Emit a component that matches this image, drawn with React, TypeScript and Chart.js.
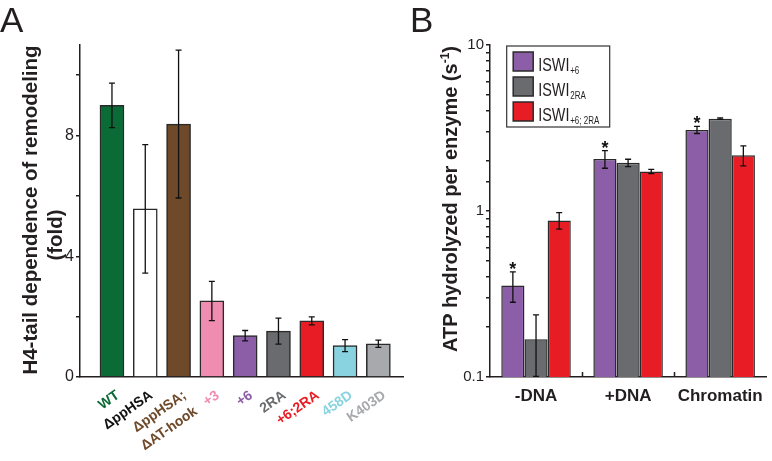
import React, { useEffect, useRef } from 'react';
import { Chart, registerables } from 'chart.js';

Chart.register(...registerables);

const FONT = '"Liberation Sans", Arial, Helvetica, sans-serif';
const INK = '#231f20';
const EDGE = '#2a2a2a';

// ---------- Panel A data ----------
const categoriesA: (string | string[])[] = ['WT', 'ΔppHSA', ['ΔppHSA;', 'ΔAT-hook'], '+3', '+6', '2RA', '+6;2RA', '458D', 'K403D'];
const valuesA = [9.0, 5.57, 8.38, 2.52, 1.37, 1.52, 1.86, 1.04, 1.1];
const errorsA = [0.74, 2.13, 2.45, 0.65, 0.17, 0.43, 0.13, 0.2, 0.12];
const barColorsA = ['#0b6b37', '#ffffff', '#6e4a2a', '#f08cb0', '#8c5ea8', '#6a6b6e', '#e81c24', '#88d3df', '#a7a9ac'];
const labelColorsA = ['#0b6b37', '#111111', '#6e4a2a', '#f08cb0', '#8c5ea8', '#6a6b6e', '#e81c24', '#88d3df', '#a7a9ac'];
const yTicksA = [0, 2, 4, 6, 8, 10];
const yTickLabelsA = ['0', '', '4', '', '8', ''];
const yTitleA = ['H4-tail dependence of remodeling', '(fold)'];

// ---------- Panel B data ----------
const categoriesB = ['-DNA', '+DNA', 'Chromatin'];
const seriesNameB = 'ISWI';
const seriesSubB = ['+6', '2RA', '+6; 2RA'];
const valuesP6 = [0.356, 2.06, 3.08];
const errorsP6 = [0.074, 0.25, 0.15];
const valuesRA = [0.169, 1.95, 3.6];
const errorsRA = [0.068, 0.1, 0.04];
const valuesP6RA = [0.878, 1.73, 2.17];
const errorsP6RA = [0.1, 0.05, 0.3];
const starsP6 = [true, true, true];
const colorsB = ['#8c5ea8', '#6a6b6e', '#e81c24'];
const yTickLabelsB = [0.1, 1, 10];
const yTitleB = 'ATP hydrolyzed per enzyme (s';
const yTitleSupB = '-1';

const errorBarPlugin = {
  id: 'errorBars',
  afterDatasetsDraw(chart: any) {
    const ctx = chart.ctx;
    const ys = chart.scales.y;
    const area = chart.chartArea;
    chart.data.datasets.forEach((ds: any, di: number) => {
      if (!ds.errors) return;
      const meta = chart.getDatasetMeta(di);
      meta.data.forEach((el: any, j: number) => {
        const raw = ds.data[j];
        const v = typeof raw === 'number' ? raw : raw.y;
        const e = ds.errors[j];
        const yTop = ys.getPixelForValue(v + e);
        const low = Math.max(v - e, ys.min);
        const yBot = Math.min(ys.getPixelForValue(low), area.bottom);
        const x = el.x;
        ctx.save();
        ctx.strokeStyle = '#111';
        ctx.lineWidth = 1.3;
        ctx.beginPath();
        ctx.moveTo(x, yTop);
        ctx.lineTo(x, yBot);
        ctx.moveTo(x - 3, yTop);
        ctx.lineTo(x + 3, yTop);
        ctx.moveTo(x - 3, yBot);
        ctx.lineTo(x + 3, yBot);
        ctx.stroke();
        if (ds.stars && ds.stars[j]) {
          ctx.fillStyle = '#111';
          ctx.font = `bold 18px ${FONT}`;
          ctx.textAlign = 'center';
          ctx.textBaseline = 'alphabetic';
          ctx.fillText('*', x, yTop + 3);
        }
        ctx.restore();
      });
    });
  },
};

const titlePluginA = {
  id: 'titleA',
  afterDraw(chart: any) {
    const ctx = chart.ctx;
    ctx.save();
    ctx.fillStyle = INK;
    ctx.font = `bold 20.5px ${FONT}`;
    ctx.textAlign = 'center';
    ctx.textBaseline = 'alphabetic';
    ctx.translate(36.7, 210);
    ctx.rotate(-Math.PI / 2);
    ctx.fillText(yTitleA[0], 0, 0);
    ctx.restore();
    ctx.save();
    ctx.fillStyle = INK;
    ctx.font = `bold 20.5px ${FONT}`;
    ctx.textAlign = 'center';
    ctx.textBaseline = 'alphabetic';
    ctx.translate(62, 235);
    ctx.rotate(-Math.PI / 2);
    ctx.fillText(yTitleA[1], 0, 0);
    ctx.restore();
  },
};

const titlePluginB = {
  id: 'titleB',
  afterDraw(chart: any) {
    const ctx = chart.ctx;
    ctx.save();
    ctx.fillStyle = INK;
    const mainFont = `bold 20px ${FONT}`;
    const supFont = `bold 12px ${FONT}`;
    ctx.font = mainFont;
    const w1 = ctx.measureText(yTitleB).width;
    const w3 = ctx.measureText(')').width;
    ctx.font = supFont;
    const w2 = ctx.measureText(yTitleSupB).width;
    const total = w1 + w2 + w3;
    ctx.translate(56.7, 199);
    ctx.rotate(-Math.PI / 2);
    ctx.textAlign = 'left';
    ctx.textBaseline = 'alphabetic';
    let x = -total / 2;
    ctx.font = mainFont;
    ctx.fillText(yTitleB, x, 0);
    x += w1;
    ctx.font = supFont;
    ctx.fillText(yTitleSupB, x, -8);
    x += w2;
    ctx.font = mainFont;
    ctx.fillText(')', x, 0);
    ctx.restore();
  },
};

const legendPluginB = {
  id: 'legendB',
  afterDraw(chart: any) {
    const ctx = chart.ctx;
    const ca = chart.chartArea;
    const bx = ca.left + 16.7;
    const by = ca.top + 1;
    ctx.save();
    ctx.fillStyle = '#ffffff';
    ctx.fillRect(bx, by, 103, 81);
    ctx.strokeStyle = '#333';
    ctx.lineWidth = 1.2;
    ctx.strokeRect(bx, by, 103, 81);
    chart.data.datasets.forEach((ds: any, i: number) => {
      const sy = ca.top + 7 + i * 25;
      ctx.fillStyle = ds.backgroundColor;
      ctx.fillRect(bx + 6.5, sy, 20, 19);
      ctx.strokeStyle = EDGE;
      ctx.lineWidth = 1.5;
      ctx.strokeRect(bx + 6.5, sy, 20, 19);
      const tx = bx + 31.5;
      const ty = ca.top + 26 + i * 25;
      ctx.fillStyle = INK;
      ctx.textAlign = 'left';
      ctx.textBaseline = 'alphabetic';
      ctx.save();
      ctx.translate(tx, ty);
      ctx.scale(0.8, 1);
      ctx.font = `18px ${FONT}`;
      ctx.fillText(seriesNameB, 0, 0);
      const mw = ctx.measureText(seriesNameB).width;
      ctx.font = `10px ${FONT}`;
      ctx.fillText(seriesSubB[i], mw + 1, 3);
      ctx.restore();
    });
    ctx.restore();
  },
};

const groupTickPluginB = {
  id: 'groupTicksB',
  afterDraw(chart: any) {
    const ctx = chart.ctx;
    const xs = chart.scales.x;
    const ca = chart.chartArea;
    ctx.save();
    ctx.strokeStyle = INK;
    ctx.lineWidth = 1.5;
    ctx.beginPath();
    for (let i = 0; i < categoriesB.length - 1; i++) {
      const x = Math.round((xs.getPixelForTick(i) + xs.getPixelForTick(i + 1)) / 2) + 0.5;
      ctx.moveTo(x, ca.bottom);
      ctx.lineTo(x, ca.bottom - 5);
    }
    ctx.stroke();
    ctx.restore();
  },
};

function PanelA() {
  const ref = useRef<HTMLCanvasElement>(null);
  useEffect(() => {
    if (!ref.current) return;
    const chart = new Chart(ref.current, {
      type: 'bar',
      data: {
        datasets: [
          {
            data: valuesA.map((v, i) => ({ x: i + 1, y: v })),
            backgroundColor: barColorsA,
            borderColor: EDGE,
            borderWidth: 1.5,
            barThickness: 24,
            errors: errorsA,
          } as any,
        ],
      },
      options: {
        animation: false,
        responsive: false,
        devicePixelRatio: 1,
        layout: { padding: { top: 45, left: 0, right: 3, bottom: 0 } },
        plugins: { legend: { display: false }, tooltip: { enabled: false } },
        scales: {
          x: {
            type: 'linear',
            offset: false,
            min: 0.04,
            max: 9.74,
            afterBuildTicks: (s: any) => {
              s.ticks = categoriesA.map((_, i) => ({ value: i + 1 }));
            },
            afterFit: (s: any) => {
              s.height = 84;
            },
            grid: { display: false, drawTicks: false },
            border: { display: true, color: INK, width: 1.5 },
            ticks: {
              autoSkip: false,
              minRotation: 35,
              maxRotation: 35,
              padding: 9,
              labelOffset: 6,
              font: { family: FONT, size: 14, weight: 'bold', lineHeight: 1.4 },
              color: (c: any) => labelColorsA[c.index],
              callback: (_v: any, i: number) => categoriesA[i] as any,
            },
          },
          y: {
            min: 0,
            max: 11,
            afterBuildTicks: (s: any) => {
              s.ticks = yTicksA.map((v) => ({ value: v }));
            },
            afterFit: (s: any) => {
              s.width = 80;
            },
            grid: { drawOnChartArea: false, drawTicks: true, tickLength: 4, color: INK, lineWidth: 1.5 },
            border: { display: true, color: INK, width: 1.5 },
            ticks: {
              autoSkip: false,
              padding: 2,
              font: { family: FONT, size: 16 },
              color: INK,
              callback: (_v: any, i: number) => yTickLabelsA[i],
            },
          },
        },
      } as any,
      plugins: [errorBarPlugin, titlePluginA],
    });
    return () => chart.destroy();
  }, []);
  return <canvas ref={ref} width={406} height={461} style={{ width: 406, height: 461, display: 'block' }} />;
}

function PanelB() {
  const ref = useRef<HTMLCanvasElement>(null);
  useEffect(() => {
    if (!ref.current) return;
    const series = [
      { v: valuesP6, e: errorsP6, s: starsP6 },
      { v: valuesRA, e: errorsRA, s: null },
      { v: valuesP6RA, e: errorsP6RA, s: null },
    ];
    const chart = new Chart(ref.current, {
      type: 'bar',
      data: {
        labels: categoriesB,
        datasets: series.map((d, i) => ({
          label: seriesNameB + seriesSubB[i],
          data: d.v,
          errors: d.e,
          stars: d.s,
          backgroundColor: colorsB[i],
          borderColor: EDGE,
          borderWidth: 1.5,
          categoryPercentage: 0.755,
          barPercentage: 1,
        })) as any,
      },
      options: {
        animation: false,
        responsive: false,
        devicePixelRatio: 1,
        layout: { padding: { top: 45, left: 0, right: 2, bottom: 0 } },
        plugins: { legend: { display: false }, tooltip: { enabled: false } },
        scales: {
          x: {
            afterFit: (s: any) => {
              s.height = 84;
            },
            grid: { display: false, drawTicks: false },
            border: { display: true, color: INK, width: 1.5 },
            ticks: {
              padding: 9,
              font: { family: FONT, size: 17, weight: 'bold' },
              color: INK,
            },
          },
          y: {
            type: 'logarithmic',
            min: 0.1,
            max: 10,
            afterFit: (s: any) => {
              s.width = 90;
            },
            grid: { drawOnChartArea: false, drawTicks: true, tickLength: 4, color: INK, lineWidth: 1.5 },
            border: { display: true, color: INK, width: 1.5 },
            ticks: {
              autoSkip: false,
              padding: 2,
              font: { family: FONT, size: 15 },
              color: INK,
              callback: (v: any) => {
                const hit = yTickLabelsB.find((t) => Math.abs(Math.log10(Number(v)) - Math.log10(t)) < 1e-6);
                return hit === undefined ? '' : String(hit);
              },
            },
          },
        },
      } as any,
      plugins: [errorBarPlugin, groupTickPluginB, legendPluginB, titlePluginB],
    });
    return () => chart.destroy();
  }, []);
  return <canvas ref={ref} width={372} height={461} style={{ width: 372, height: 461, display: 'block' }} />;
}

const letterStyle: React.CSSProperties = {
  position: 'absolute',
  top: 2,
  fontFamily: FONT,
  fontSize: 35,
  lineHeight: '35px',
  color: INK,
};

export default function App() {
  return (
    <div style={{ position: 'absolute', left: 0, top: 0, width: 772, height: 461, background: '#fff', overflow: 'hidden' }}>
      <div style={{ position: 'absolute', left: 0, top: 0 }}>
        <PanelA />
      </div>
      <div style={{ position: 'absolute', left: 400, top: 0 }}>
        <PanelB />
      </div>
      <div style={{ ...letterStyle, left: 0 }}>A</div>
      <div style={{ ...letterStyle, left: 410 }}>B</div>
    </div>
  );
}
